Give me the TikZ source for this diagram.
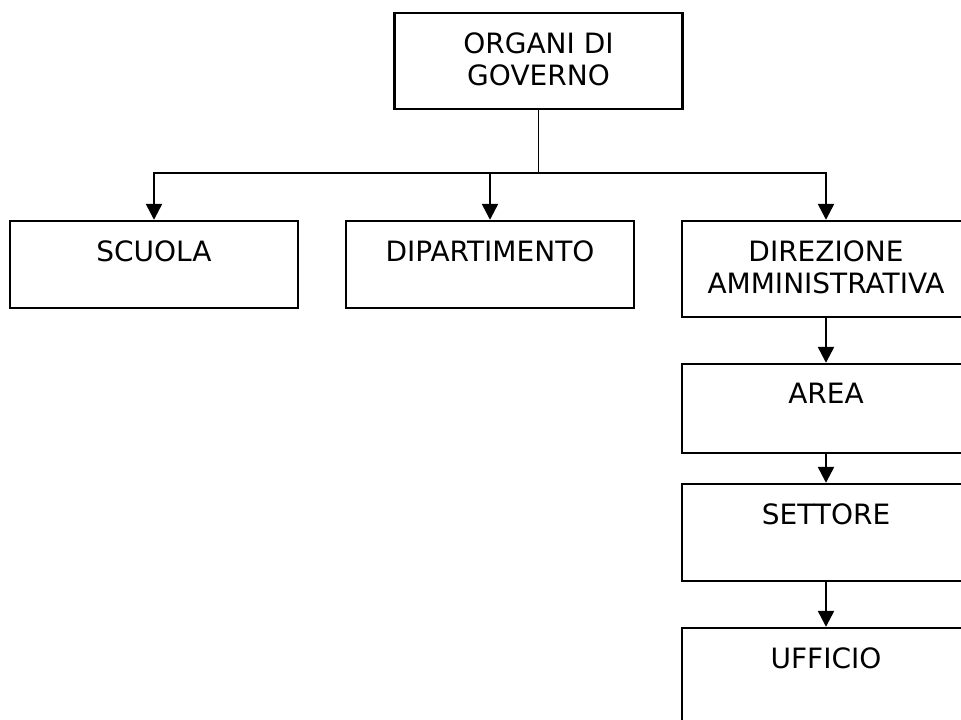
\documentclass[tikz,border=0pt]{standalone}
\usepackage{fontspec}
\setmainfont{DejaVu Sans}
\usetikzlibrary{arrows.meta}
\begin{document}
\begin{tikzpicture}[x=1pt,y=-1pt,
  box/.style={draw=black,line width=2.4pt,rectangle,inner sep=0pt,minimum width=288pt},
  lbl/.style={anchor=north,inner sep=0pt,align=center,font=\fontsize{28}{32}\selectfont},
  conn/.style={line width=2.4pt,-{Triangle[width=16pt,length=16pt]}},
  stem/.style={line width=1.6pt}]
\useasboundingbox (0,0) rectangle (961,720);
\clip (0,0) rectangle (961,720);
\fill[white] (0,0) rectangle (961,720);
% boxes
\node[box,minimum height=96pt] (organi) at (538.5,61) {};
\node[box,minimum height=87pt] (scuola) at (154,264.5) {};
\node[box,minimum height=87pt] (dip) at (490,264.5) {};
\node[box,minimum height=96pt] (dir) at (826,269) {};
\node[box,minimum height=89pt] (area) at (826,408.5) {};
\node[box,minimum height=97pt] (settore) at (826,532.5) {};
\node[box,minimum height=96pt] (ufficio) at (826,676) {};
% labels
\node[lbl] (lorg) at ([yshift=-20.5pt]organi.north) {ORGANI DI\\GOVERNO};
\node[lbl] (lscu) at ([yshift=-20.5pt]scuola.north) {SCUOLA};
\node[lbl] (ldip) at ([yshift=-20.5pt]dip.north) {DIPARTIMENTO};
\node[lbl] (ldir) at ([yshift=-20.5pt]dir.north) {DIREZIONE\\AMMINISTRATIVA};
\node[lbl] (lare) at ([yshift=-20.5pt]area.north) {AREA};
\node[lbl] (lset) at ([yshift=-20.5pt]settore.north) {SETTORE};
\node[lbl] (luff) at ([yshift=-20.5pt]ufficio.north) {UFFICIO};
% connectors
\coordinate (bus) at (538.5,173);
\draw[stem] (organi.south) -- (bus);
\draw[conn] (bus) -| (scuola.north);
\draw[conn] (bus) -| (dip.north);
\draw[conn] (bus) -| (dir.north);
\draw[conn] (dir.south) -- (area.north);
\draw[conn] (area.south) -- (settore.north);
\draw[conn] (settore.south) -- (ufficio.north);
\end{tikzpicture}
\end{document}
